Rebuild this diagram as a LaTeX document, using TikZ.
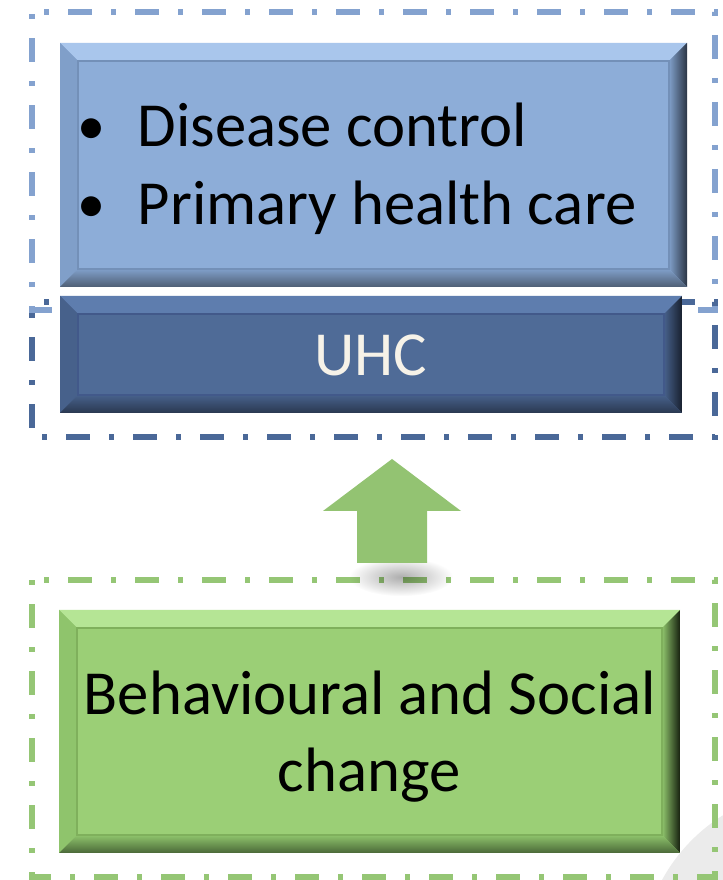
\documentclass[tikz,border=0pt]{standalone}
\usepackage{fontspec}
\setmainfont{Carlito}
\usetikzlibrary{calc,fadings}
\definecolor{dashlight}{HTML}{84A2CF}
\definecolor{dashdark}{HTML}{4A6898}
\definecolor{dashgreen}{HTML}{95C675}
\definecolor{blueface}{HTML}{8DADD8}
\definecolor{bluetop}{HTML}{A9C6EC}
\definecolor{blueleft}{HTML}{809FC9}
\definecolor{blueshade}{HTML}{2B3545}
\definecolor{bluebase}{HTML}{4E5E74}
\definecolor{blueline}{HTML}{7390B8}
\definecolor{uhcface}{HTML}{4F6B97}
\definecolor{uhctop}{HTML}{5E7DAE}
\definecolor{uhcleft}{HTML}{47618B}
\definecolor{uhcshade}{HTML}{18202E}
\definecolor{uhcbase}{HTML}{2A3850}
\definecolor{uhcline}{HTML}{42598A}
\definecolor{greenface}{HTML}{9BCF76}
\definecolor{greentop}{HTML}{B5E595}
\definecolor{greenleft}{HTML}{8FC46C}
\definecolor{greenshade}{HTML}{16200F}
\definecolor{greenbase}{HTML}{4A6838}
\definecolor{greenline}{HTML}{7FB05C}
\definecolor{liftgreen}{HTML}{93C372}
\definecolor{cornergray}{HTML}{EBEBEB}
\definecolor{uhcwhite}{HTML}{F6F2E8}
\tikzfading[name=softspot, inner color=transparent!68, outer color=transparent!100]
\newcommand\bevw{0.45}
\tikzset{
  canvasbox/.style={fill=white, inner sep=0pt, outer sep=0pt},
  dashframe/.style={line width=0.1375cm,
                    dash pattern=on 0.6cm off 0.475cm on 0.125cm off 0.475cm, dash phase=0.775cm},
  bigtext/.style={font=\fontsize{44.6}{56}\selectfont, inner sep=0pt, text=black},
  bullettext/.style={font=\fontsize{40}{48}\selectfont, inner sep=0pt, text=black},
  bevelbox/.style n args={6}{
    fill=#1, inner sep=0pt, outer sep=0pt,
    path picture={
      \coordinate (bnw) at (path picture bounding box.north west);
      \coordinate (bse) at (path picture bounding box.south east);
      \coordinate (bne) at (bnw -| bse);
      \coordinate (bsw) at (bnw |- bse);
      \fill[#2] (bnw) -- (bne) -- ($(bne)+(-\bevw,-\bevw)$) -- ($(bnw)+(\bevw,-\bevw)$) -- cycle;
      \fill[#3] (bnw) -- ($(bnw)+(\bevw,-\bevw)$) -- ($(bsw)+(\bevw,\bevw)$) -- (bsw) -- cycle;
      \shade[left color=#3, middle color=#3!55!#4, right color=#4]
        (bne) -- (bse) -- ($(bse)+(-\bevw,\bevw)$) -- ($(bne)+(-\bevw,-\bevw)$) -- cycle;
      \shade[top color=#3, bottom color=#5]
        (bsw) -- ($(bsw)+(\bevw,\bevw)$) -- ($(bse)+(-\bevw,\bevw)$) -- (bse) -- cycle;
      \draw[#6, line width=0.8pt] ($(bnw)+(\bevw,-\bevw)$) rectangle ($(bse)+(-\bevw,\bevw)$);
    }},
}

\begin{document}
\begin{tikzpicture}[x=1cm,y=1cm]

% Canvas ----------------------------------------------------------------------
\node[canvasbox, minimum width=18.075cm, minimum height=22cm, anchor=south west] (canvas) at (0,0) {};
\begin{scope}
  \clip (canvas.south west) rectangle (canvas.north east);
  \fill[cornergray] (20.375,-2.075) circle (4.35);
\end{scope}

% Dash-dot frames ---------------------------------------------------------------
\draw[dashframe, draw=dashlight] (0.8,21.7) -- (17.875,21.7) -- (17.875,14.25) -- (0.8,14.25) -- cycle;
\draw[dashframe, draw=dashdark] (0.8,14.45) -- (17.875,14.45) -- (17.875,11.075) -- (0.8,11.075) -- cycle;
\draw[dashframe, draw=dashgreen] (0.8,7.5) -- (17.875,7.5) -- (17.875,0.075) -- (0.8,0.075) -- cycle;

% Health system blocks ----------------------------------------------------------
\node[bevelbox={blueface}{bluetop}{blueleft}{blueshade}{bluebase}{blueline},
      minimum width=15.675cm, minimum height=6.1cm] (disease) at (9.3375,17.875) {};
\node[bullettext, anchor=base] (dbul) at ($(disease.center)+(-7.0375,0.5)$) {•};
\node[bigtext, anchor=base west] (dtxt) at ($(disease.center)+(-5.9,0.45)$) {Disease control};
\node[bullettext, anchor=base] (pbul) at ($(disease.center)+(-7.0375,-1.45)$) {•};
\node[bigtext, anchor=base west] (ptxt) at ($(disease.center)+(-5.9,-1.5)$) {Primary health care};

\node[bevelbox={uhcface}{uhctop}{uhcleft}{uhcshade}{uhcbase}{uhcline},
      minimum width=15.55cm, minimum height=2.925cm] (uhc) at (9.275,13.1375) {};
\node[bigtext, text=uhcwhite, anchor=base] (uhctxt) at ($(uhc.center)+(0,-0.5375)$) {UHC};

% Lift arrow with its soft shadow -------------------------------------------------
\fill[black, path fading=softspot] (10.025,7.575) ellipse [x radius=1.3, y radius=0.48];
\coordinate (lifttip) at (9.8,10.525);
\fill[liftgreen] (lifttip) -- ++(1.725,-1.3) -- ++(-0.85,0) -- ++(0,-1.3) -- ++(-1.75,0)
  -- ++(0,1.3) -- ++(-0.85,0) -- cycle;

% Behaviour block ---------------------------------------------------------------
\node[bevelbox={greenface}{greentop}{greenleft}{greenshade}{greenbase}{greenline},
      minimum width=15.525cm, minimum height=6.075cm] (social) at (9.2375,3.7125) {};
\node[bigtext, anchor=base] (stxt) at ($(social.center)+(0.0125,0.4125)$) {Behavioural and Social};
\node[bigtext, anchor=base] (ctxt) at ($(social.center)+(-0.0125,-1.5125)$) {change};

\end{tikzpicture}
\end{document}
